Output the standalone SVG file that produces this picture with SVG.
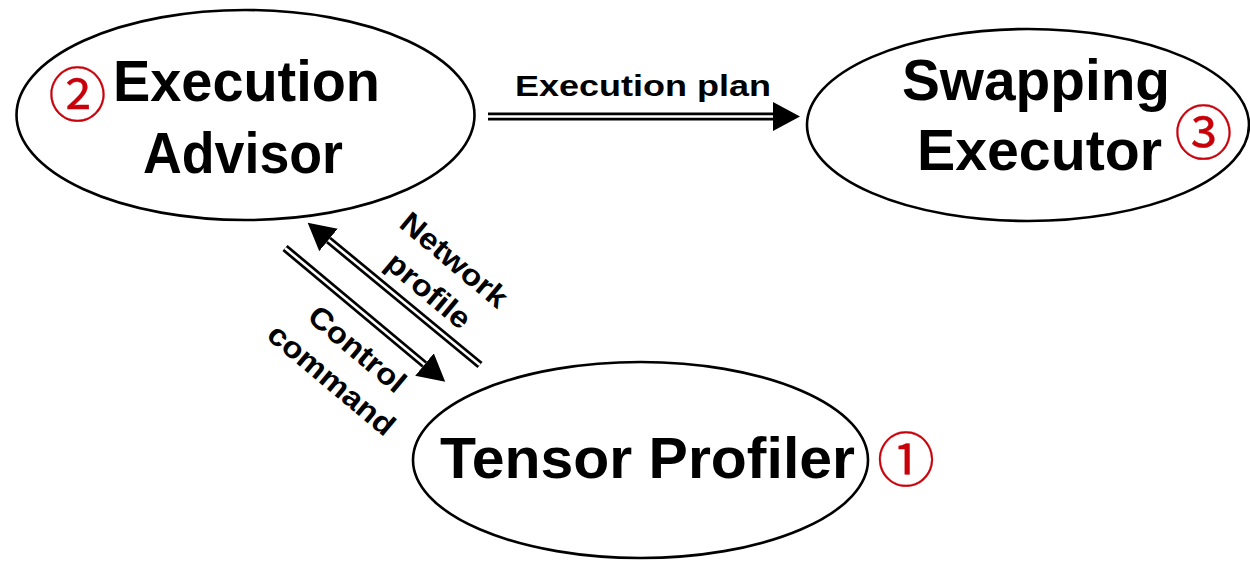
<svg xmlns="http://www.w3.org/2000/svg" width="1250" height="563" viewBox="0 0 1250 563">
  <style>
    .node { fill: #ffffff; stroke: #000000; stroke-width: 2.6; }
    .title { font-family: "Liberation Sans", Arial, Helvetica, sans-serif; font-weight: bold; font-size: 57px; fill: #000000; text-anchor: middle; }
    .label { font-family: "Liberation Sans", Arial, Helvetica, sans-serif; font-weight: bold; font-size: 30px; fill: #000000; text-anchor: middle; }
    .num { font-family: "Noto Sans CJK JP", "Noto Sans CJK SC", sans-serif; font-size: 58px; fill: #c8000a; stroke: #c8000a; stroke-width: 0.3; text-anchor: middle; dominant-baseline: central; }
    .rail { fill: none; stroke: #000000; stroke-width: 8; stroke-linecap: butt; }
    .gap { fill: none; stroke: #ffffff; stroke-width: 2.6; stroke-linecap: butt; }
  </style>
  <defs>
    <marker id="head" markerUnits="userSpaceOnUse" markerWidth="28" markerHeight="30" refX="0" refY="14.5" orient="auto">
      <path d="M0,0 L27,14.5 L0,29 z" fill="#000000"/>
    </marker>
  </defs>

  <rect width="1250" height="563" fill="#ffffff"/>

  <!-- nodes -->
  <g id="execution-advisor">
    <ellipse class="node" cx="245.5" cy="115" rx="229" ry="105"/>
    <text class="title" x="246.5" y="101" textLength="267" lengthAdjust="spacingAndGlyphs">Execution</text>
    <text class="title" x="243" y="173" textLength="200" lengthAdjust="spacingAndGlyphs">Advisor</text>
    <text class="num" x="77.5" y="90.5">②</text>
  </g>

  <g id="swapping-executor">
    <ellipse class="node" cx="1028" cy="125" rx="221" ry="96"/>
    <text class="title" x="1036" y="100" textLength="268" lengthAdjust="spacingAndGlyphs">Swapping</text>
    <text class="title" x="1039.5" y="170" textLength="245" lengthAdjust="spacingAndGlyphs">Executor</text>
    <text class="num" x="1203.5" y="128.5">③</text>
  </g>

  <g id="tensor-profiler">
    <ellipse class="node" cx="640.5" cy="460" rx="227.5" ry="98"/>
    <text class="title" x="647.5" y="478" font-size="59" textLength="415" lengthAdjust="spacingAndGlyphs">Tensor Profiler</text>
    <text class="num" x="906" y="456">①</text>
  </g>

  <!-- connectors: double-rail arrows, labels set in a widened bold face -->
  <g id="connectors">
    <!-- Execution Advisor to Swapping Executor -->
    <path class="rail" d="M488,116.5 L773,116.5" marker-end="url(#head)"/>
    <path class="gap" d="M488,116.5 L773,116.5"/>
    <g transform="translate(643,96) scale(1.2,1)">
      <text class="label" x="0" y="0">Execution plan</text>
    </g>

    <!-- Tensor Profiler to Execution Advisor -->
    <path class="rail" d="M480,365 L328.5,240" marker-end="url(#head)"/>
    <path class="gap" d="M480,365 L328.5,240"/>
    <g transform="translate(440,277) rotate(40) scale(1.1,1)">
      <text class="label" x="0" y="-12">Network</text>
      <text class="label" x="0" y="28">profile</text>
    </g>

    <!-- Execution Advisor to Tensor Profiler -->
    <path class="rail" d="M285,248 L424.5,364.5" marker-end="url(#head)"/>
    <path class="gap" d="M285,248 L424.5,364.5"/>
    <g transform="translate(343,366) rotate(40) scale(1.1,1)">
      <text class="label" x="0" y="-12">Control</text>
      <text class="label" x="0" y="28">command</text>
    </g>
  </g>
</svg>
